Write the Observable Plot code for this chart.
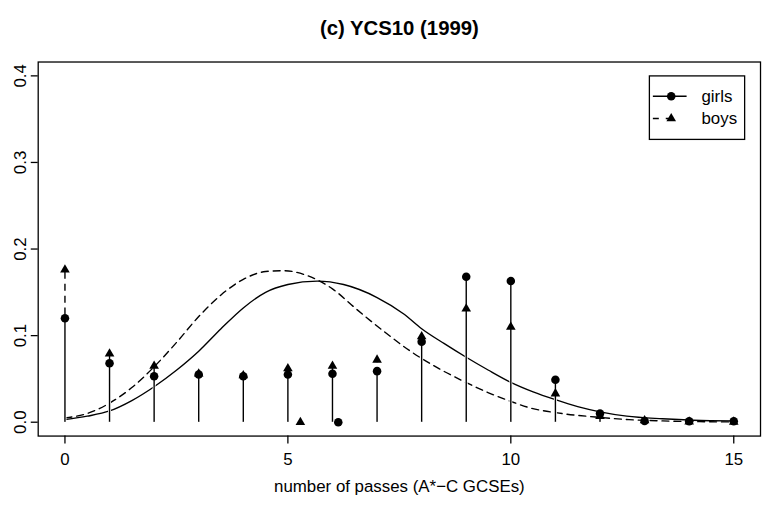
<!DOCTYPE html>
<html>
<head>
<meta charset="utf-8">
<script src="https://cdn.jsdelivr.net/npm/d3@7"></script>
<script src="https://cdn.jsdelivr.net/npm/@observablehq/plot@0.6"></script>
<style>
  html, body { margin: 0; padding: 0; background: #fff; overflow: hidden; }
  #chart { width: 762px; height: 508px; overflow: hidden; position: relative; }
</style>
</head>
<body>
<div id="chart"></div>
<script>
// Proportion of pupils by number of A*-C GCSE passes, YCS cohort 10 (1999)
const passes = [0, 1, 2, 3, 4, 5, 6, 7, 8, 9, 10, 11, 12, 13, 14, 15];
const girls  = [0.120, 0.068, 0.053, 0.055, 0.053, 0.055, 0.056, 0.059, 0.093, 0.168, 0.163, 0.049, 0.010, 0.0015, 0.001, 0.001];
const boys   = [0.176, 0.079, 0.065, 0.056, 0.054, 0.062, 0.065, 0.072, 0.099, 0.131, 0.110, 0.033, 0.007, 0.002, 0.0006, 0.0004];

// Mean number of passes, marked on the baseline
const girlsMean = 6.13;
const boysMean = 5.28;

// Fitted densities
const girlsCurveX = [0, 0.5, 1, 1.5, 2, 2.5, 3, 3.5, 4, 4.5, 5, 5.66, 6.25, 7, 7.6, 8, 8.5, 9, 9.5, 10, 10.5, 11, 11.5, 12, 12.6, 13.4, 14.1, 15];
const girlsCurveY = [0.003, 0.007, 0.013, 0.025, 0.041, 0.060, 0.082, 0.108, 0.132, 0.150, 0.159, 0.163, 0.159, 0.144, 0.125, 0.108, 0.091, 0.075, 0.060, 0.046, 0.035, 0.026, 0.018, 0.012, 0.007, 0.004, 0.0023, 0.0015];
const boysCurveX  = [0, 0.5, 1, 1.5, 2, 2.5, 3, 3.5, 4, 4.5, 4.9, 5.4, 6, 6.55, 7.15, 7.75, 8.35, 8.95, 9.5, 10, 10.4, 11.15, 11.9, 12.65, 13.4, 14, 15];
const boysCurveY  = [0.005, 0.010, 0.022, 0.040, 0.064, 0.092, 0.122, 0.147, 0.165, 0.174, 0.175, 0.170, 0.154, 0.130, 0.105, 0.082, 0.063, 0.047, 0.034, 0.024, 0.017, 0.010, 0.006, 0.003, 0.0015, 0.0008, 0.0003];

const xTicks = [0, 5, 10, 15];
const yTicks = [0, 0.1, 0.2, 0.3, 0.4];
const title = "(c) YCS10 (1999)";
const xLabel = "number of passes (A*\u2212C GCSEs)";
const series = ["girls", "boys"];

const font = "'Liberation Sans', Arial, Helvetica, sans-serif";
const toRows = (xs, ys) => xs.map((x, i) => ({x, y: ys[i]}));
const girlsRows = toRows(passes, girls);
const boysRows = toRows(passes, boys);
const dash = "7,5";
const lw = 1.4;

const chart = Plot.plot({
  width: 768,
  height: 508,
  marginLeft: 38,
  marginRight: 2,
  marginTop: 62,
  marginBottom: 69,
  style: {fontFamily: font, fontSize: "17px", color: "#000", background: "#fff", overflow: "visible"},
  x: {domain: [-0.6, 15.6]},
  y: {domain: [-0.016, 0.416]},
  marks: [
    // fitted curves
    Plot.line(toRows(boysCurveX, boysCurveY), {x: "x", y: "y", curve: "monotone-x", stroke: "#000", strokeWidth: lw, strokeDasharray: dash}),
    Plot.line(toRows(girlsCurveX, girlsCurveY), {x: "x", y: "y", curve: "monotone-x", stroke: "#000", strokeWidth: lw}),
    // observed proportions as spikes; the solid girls spike hides the dashed one beneath it
    Plot.ruleX(boysRows, {x: "x", y1: 0, y2: "y", stroke: "#000", strokeWidth: lw, strokeDasharray: dash}),
    Plot.ruleX(girlsRows, {x: "x", y1: 0, y2: "y", stroke: "#fff", strokeWidth: 3}),
    Plot.ruleX(girlsRows, {x: "x", y1: 0, y2: "y", stroke: "#000", strokeWidth: lw}),
    Plot.dot(boysRows, {x: "x", y: "y", symbol: "triangle", r: 3.6, fill: "#000", stroke: null}),
    Plot.dot(girlsRows, {x: "x", y: "y", r: 4.3, fill: "#000", stroke: null}),
    // means on the baseline
    Plot.dot([{x: boysMean, y: 0}], {x: "x", y: "y", symbol: "triangle", r: 3.6, fill: "#000", stroke: null}),
    Plot.dot([{x: girlsMean, y: 0}], {x: "x", y: "y", r: 4.3, fill: "#000", stroke: null}),
    // box and axes
    Plot.frame({stroke: "#000", strokeWidth: 1.3}),
    Plot.axisX({ticks: xTicks, tickSize: 8, tickPadding: 9, label: null, strokeWidth: 1.3, fontSize: 17}),
    Plot.axisY({ticks: yTicks, tickSize: 7, tickPadding: 5, tickRotate: -90, tickFormat: d3.format(".1f"), label: null, strokeWidth: 1.3, fontSize: 17}),
    Plot.text([title], {text: d => d, frameAnchor: "top", dy: -41.5, fontWeight: "bold", fontSize: 20.5}),
    Plot.text([xLabel], {text: d => d, frameAnchor: "bottom", dy: 56, fontSize: 17})
  ]
});

// legend box in the top-right corner of the panel
const svg = d3.select(chart);
const lg = svg.append("g").attr("font-family", font).attr("font-size", 17).attr("text-anchor", "start");
lg.append("rect").attr("x", 654.5).attr("y", 76.5).attr("width", 96).attr("height", 64)
  .attr("fill", "#fff").attr("stroke", "#000").attr("stroke-width", 1.3);
series.forEach((name, i) => {
  const cy = 97 + i * 22.5;
  lg.append("line").attr("x1", 658).attr("x2", 692).attr("y1", cy).attr("y2", cy)
    .attr("stroke", "#000").attr("stroke-width", lw)
    .attr("stroke-dasharray", name === "boys" ? "6,7,7,20" : null);
  if (name === "girls") {
    lg.append("circle").attr("cx", 676.5).attr("cy", cy).attr("r", 4.3).attr("fill", "#000");
  } else {
    lg.append("path").attr("d", d3.symbol(d3.symbolTriangle, Math.PI * 3.6 * 3.6)()).attr("transform", `translate(676.5,${cy})`).attr("fill", "#000");
  }
  lg.append("text").attr("x", 707).attr("y", cy).attr("dy", "0.35em").attr("text-anchor", "start").text(name);
});

document.getElementById("chart").appendChild(chart);
</script>
</body>
</html>
